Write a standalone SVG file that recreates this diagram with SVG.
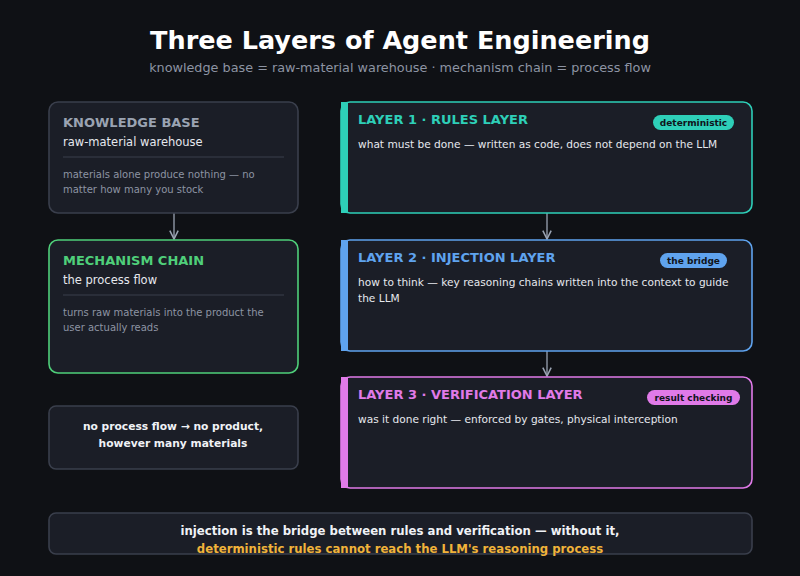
<svg xmlns="http://www.w3.org/2000/svg" width="800" height="576" viewBox="0 0 800 576">
<defs>
<marker id="ar" viewBox="0 0 10 10" refX="9" refY="5" markerWidth="8" markerHeight="8" orient="auto"><path d="M1,1 L9,5 L1,9" fill="none" stroke="#9aa3b2" stroke-width="1.5"/></marker>
</defs>
<style>
text{font-family:"DejaVu Sans",sans-serif}
.box{fill:#1b1e27;stroke-width:1.6}
.h{font-size:13px;font-weight:bold}
.sub{font-size:11.5px;fill:#e6e8ee}
.sm{font-size:10px;fill:#8d94a3}
.body{font-size:10.6px;fill:#e6e8ee}
.pill{font-size:9px;font-weight:bold;fill:#10131a}
.c{stroke:#9aa3b2;stroke-width:1.3;fill:none}
</style>
<rect width="800" height="576" fill="#0f1115"/>
<text x="400" y="49" text-anchor="middle" font-size="25.5" font-weight="bold" fill="#ffffff">Three Layers of Agent Engineering</text>
<text x="400" y="72" text-anchor="middle" font-size="12.8" fill="#8d94a3">knowledge base = raw-material warehouse · mechanism chain = process flow</text>
<g id="connectors">
<line class="c" x1="174" y1="213" x2="174" y2="239" marker-end="url(#ar)"/>
<line class="c" x1="547" y1="213" x2="547" y2="239" marker-end="url(#ar)"/>
<line class="c" x1="547" y1="351" x2="547" y2="376" marker-end="url(#ar)"/>
</g>
<g id="kb">
<rect class="box" x="49" y="102" width="249" height="111" rx="9" stroke="#3a3f4c"/>
<text class="h" x="63" y="127" fill="#9aa3b2">KNOWLEDGE BASE</text>
<text class="sub" x="63" y="146">raw-material warehouse</text>
<line x1="63" y1="157" x2="284" y2="157" stroke="#3a3f4c"/>
<text class="sm" x="63" y="178">materials alone produce nothing — no</text>
<text class="sm" x="63" y="193">matter how many you stock</text>
</g>
<g id="mc">
<rect class="box" x="49" y="240" width="249" height="133" rx="9" stroke="#4fcf7a"/>
<text class="h" x="63" y="265" fill="#4fcf7a">MECHANISM CHAIN</text>
<text class="sub" x="63" y="284">the process flow</text>
<line x1="63" y1="295" x2="284" y2="295" stroke="#3a3f4c"/>
<text class="sm" x="63" y="316">turns raw materials into the product the</text>
<text class="sm" x="63" y="331">user actually reads</text>
</g>
<g id="note">
<rect class="box" x="49" y="406" width="249" height="63" rx="7" stroke="#3a3f4c"/>
<text x="173" y="430" text-anchor="middle" font-size="10.7" font-weight="bold" fill="#f0f2f6">no process flow → no product,</text>
<text x="173" y="447" text-anchor="middle" font-size="10.7" font-weight="bold" fill="#f0f2f6">however many materials</text>
</g>
<g id="l1">
<rect class="box" x="341" y="102" width="411" height="111" rx="9" stroke="#2ecfb8"/>
<rect x="341" y="102" width="7" height="111" fill="#2ecfb8"/>
<text class="h" x="358" y="124" fill="#2ecfb8">LAYER 1 · RULES LAYER</text>
<rect x="653" y="115" width="81" height="15" rx="7.5" fill="#2ecfb8"/>
<text class="pill" x="693.5" y="126" text-anchor="middle">deterministic</text>
<text class="body" x="358" y="148">what must be done — written as code, does not depend on the LLM</text>
</g>
<g id="l2">
<rect class="box" x="341" y="240" width="411" height="111" rx="9" stroke="#5fa3ee"/>
<rect x="341" y="240" width="7" height="111" fill="#5fa3ee"/>
<text class="h" x="358" y="262" fill="#5fa3ee">LAYER 2 · INJECTION LAYER</text>
<rect x="660" y="253" width="67" height="15" rx="7.5" fill="#5fa3ee"/>
<text class="pill" x="693.5" y="264" text-anchor="middle">the bridge</text>
<text class="body" x="358" y="286">how to think — key reasoning chains written into the context to guide</text>
<text class="body" x="358" y="302">the LLM</text>
</g>
<g id="l3">
<rect class="box" x="341" y="377" width="411" height="111" rx="9" stroke="#e07ae8"/>
<rect x="341" y="377" width="7" height="111" fill="#e07ae8"/>
<text class="h" x="358" y="399" fill="#e07ae8">LAYER 3 · VERIFICATION LAYER</text>
<rect x="647" y="390" width="93" height="15" rx="7.5" fill="#e07ae8"/>
<text class="pill" x="693.5" y="401" text-anchor="middle">result checking</text>
<text class="body" x="358" y="423">was it done right — enforced by gates, physical interception</text>
</g>
<g id="footer">
<rect class="box" x="49" y="513" width="703" height="41" rx="7" stroke="#3a3f4c"/>
<text x="400" y="535" text-anchor="middle" font-size="11.7" font-weight="bold" fill="#f0f2f6">injection is the bridge between rules and verification — without it,</text>
<text x="400" y="553" text-anchor="middle" font-size="11.7" font-weight="bold" fill="#f0b33a">deterministic rules cannot reach the LLM's reasoning process</text>
</g>
</svg>
